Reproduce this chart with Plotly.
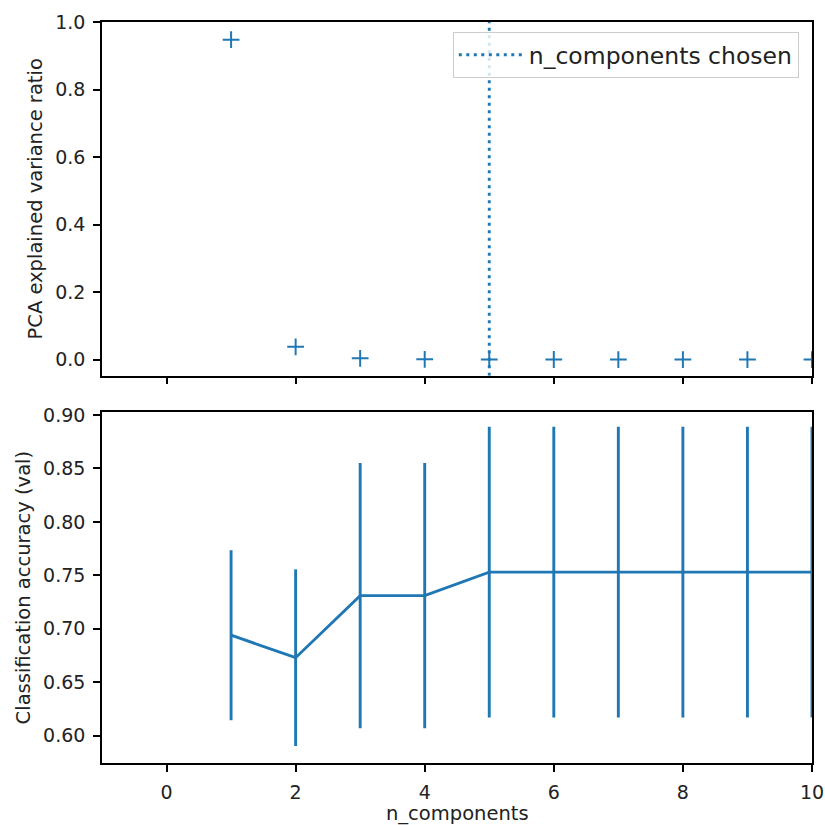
import plotly.graph_objects as go

# Number of PCA components kept
n_components = [1, 2, 3, 4, 5, 6, 7, 8, 9, 10]

# Explained variance ratio of each component
explained_variance = [0.948, 0.038, 0.004, 0.001, 0.0006, 0.0004, 0.0003, 0.0002, 0.0001, 0.0001]

# Cross-validated accuracy (mean and std) for each n_components
acc_mean = [0.694, 0.673, 0.731, 0.731, 0.753, 0.753, 0.753, 0.753, 0.753, 0.753]
acc_std = [0.0795, 0.0826, 0.124, 0.124, 0.136, 0.136, 0.136, 0.136, 0.136, 0.136]

# Selected number of components
chosen = 5

x_ticks = [0, 2, 4, 6, 8, 10]
top_ticks = [0.0, 0.2, 0.4, 0.6, 0.8, 1.0]
bottom_ticks = [0.60, 0.65, 0.70, 0.75, 0.80, 0.85, 0.90]

BLUE = "#1f77b4"
TXT = "#222222"
FONT = "DejaVu Sans"

x_range = [-1, 10.0005]
top_range = [-0.0475, 1.0005]
bottom_range = [0.5745, 0.9025]

fig = go.Figure()

fig.add_trace(go.Scatter(
    x=n_components, y=explained_variance, mode="markers",
    marker=dict(symbol="cross-thin", size=12, line=dict(width=2, color=BLUE), color=BLUE),
    xaxis="x", yaxis="y", showlegend=False,
))

fig.add_trace(go.Scatter(
    x=[chosen, chosen], y=top_range, mode="lines",
    line=dict(color=BLUE, width=2.9, dash="3px,4.5px"),
    name="n_components chosen", xaxis="x", yaxis="y", showlegend=True,
))

fig.add_trace(go.Scatter(
    x=n_components, y=acc_mean, mode="lines",
    line=dict(color=BLUE, width=2.9),
    error_y=dict(type="data", array=acc_std, visible=True, width=0, thickness=2.9, color=BLUE),
    xaxis="x2", yaxis="y2", showlegend=False,
))

axis_common = dict(
    showline=True, linecolor="black", linewidth=1.6, mirror=True,
    ticks="outside", ticklen=7, tickwidth=1.6, tickcolor="black",
    showgrid=False, zeroline=False, ticklabeloverflow="allow", automargin=False,
    tickfont=dict(family=FONT, size=19, color=TXT),
)

fig.update_layout(
    width=825, height=825,
    margin=dict(l=102, r=13, t=22, b=62),
    paper_bgcolor="white", plot_bgcolor="white",
    font=dict(family=FONT, color=TXT),
    xaxis=dict(domain=[0, 1], anchor="y", range=x_range, tickvals=x_ticks,
               showticklabels=False, matches="x2", **axis_common),
    yaxis=dict(domain=[0.5227, 1.0], anchor="x", range=top_range, tickvals=top_ticks,
               ticktext=[f"{v:.1f}" for v in top_ticks], ticklabelstandoff=4,
               title=dict(text="PCA explained variance ratio",
                          font=dict(family=FONT, size=19.5, color=TXT), standoff=7),
               **axis_common),
    xaxis2=dict(domain=[0, 1], anchor="y2", range=x_range, tickvals=x_ticks,
                ticktext=[str(v) for v in x_ticks], ticklabelstandoff=4, **axis_common),
    yaxis2=dict(domain=[0.0, 0.4733], anchor="x2", range=bottom_range, tickvals=bottom_ticks,
                ticktext=[f"{v:.2f}" for v in bottom_ticks], ticklabelstandoff=4,
                title=dict(text="Classification accuracy (val)",
                           font=dict(family=FONT, size=19.5, color=TXT), standoff=7),
                **axis_common),
    legend=dict(
        x=0.9814, y=0.9865, xanchor="right", yanchor="top", itemwidth=65,
        bgcolor="rgba(255,255,255,0.8)", bordercolor="#cccccc", borderwidth=1,
        font=dict(family=FONT, size=23.5, color=TXT),
    ),
    annotations=[dict(
        text="n_components", xref="paper", yref="paper", x=0.5, y=-0.068,
        xanchor="center", yanchor="middle", showarrow=False,
        font=dict(family=FONT, size=19.5, color=TXT),
    )],
)

fig.write_html("out.html")
